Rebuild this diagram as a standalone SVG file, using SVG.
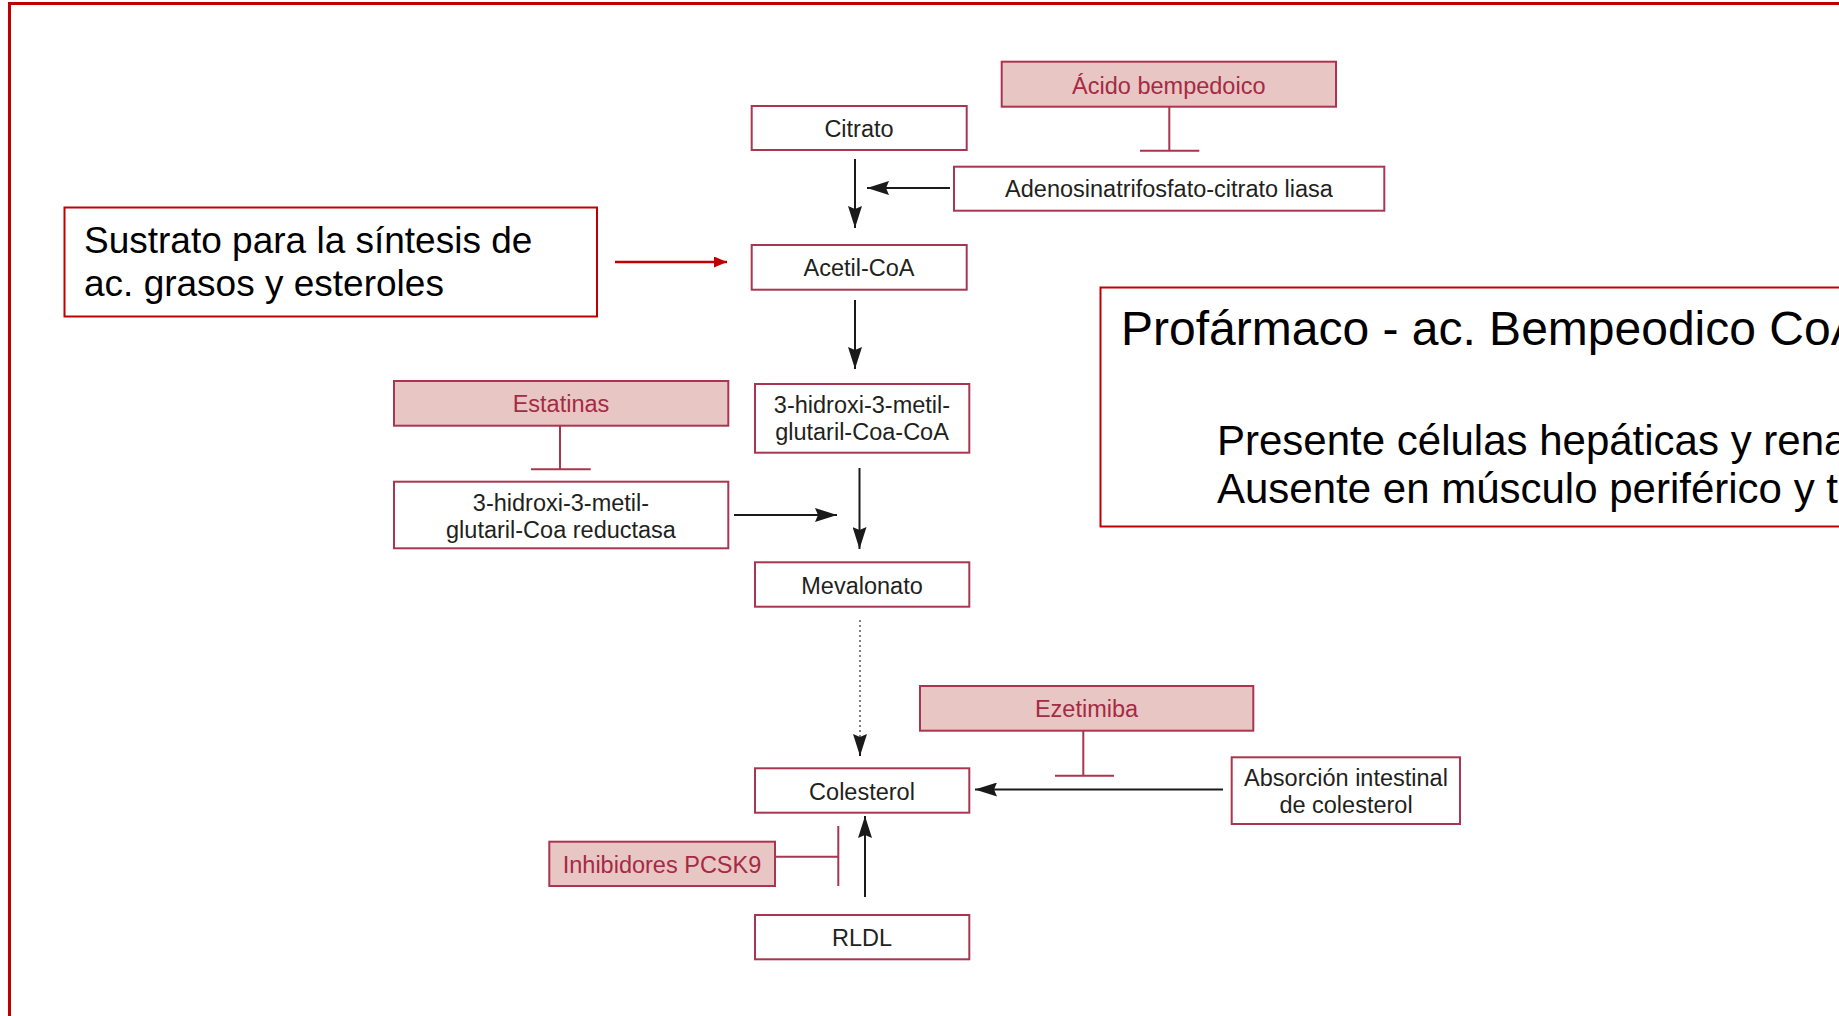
<svg xmlns="http://www.w3.org/2000/svg" width="1839" height="1016" viewBox="0 0 1839 1016">
<style>
.bg{fill:#ffffff}
.frame{fill:none;stroke:#c00000;stroke-width:3}
.note{fill:#ffffff;stroke:#c00000;stroke-width:2}
.node{fill:#ffffff;stroke:#aa3550;stroke-width:2}
.drug{fill:#e8c6c3;stroke:#aa3550;stroke-width:2}
.t{font-family:"Liberation Sans",Arial,sans-serif;font-size:23.5px;fill:#231f20;text-anchor:middle}
.td{font-family:"Liberation Sans",Arial,sans-serif;font-size:23.5px;fill:#a52a45;text-anchor:middle}
.tn{font-family:"Liberation Sans",Arial,sans-serif;fill:#000000}
.arr{stroke:#1a1a1a;stroke-width:2;fill:none}
.inh{stroke:#aa3550;stroke-width:2;fill:none}
.dot{stroke:#555555;stroke-width:1.5;fill:none;stroke-dasharray:2 3}
.red{stroke:#c00000;stroke-width:2.5;fill:none}
</style>
<defs>
<marker id="ah" viewBox="0 0 22 14" refX="22" refY="7" markerWidth="22" markerHeight="14" markerUnits="userSpaceOnUse" orient="auto">
<path d="M0,0 L22,7 L0,14 L3,7 z" fill="#1a1a1a"/>
</marker>
<marker id="ahr" viewBox="0 0 13 11" refX="13" refY="5.5" markerWidth="13" markerHeight="11" markerUnits="userSpaceOnUse" orient="auto">
<path d="M0,0 L13,5.5 L0,11 z" fill="#c00000"/>
</marker>
</defs>
<rect class="bg" x="0" y="0" width="1839" height="1016"/>
<rect class="frame" x="9.5" y="3.5" width="1900" height="1100"/>

<g id="connectors">
<line class="arr" x1="855" y1="159" x2="855" y2="228" marker-end="url(#ah)"/>
<line class="arr" x1="950" y1="188" x2="867" y2="188" marker-end="url(#ah)"/>
<line class="arr" x1="855" y1="300" x2="855" y2="369" marker-end="url(#ah)"/>
<line class="arr" x1="859.5" y1="468" x2="859.5" y2="549" marker-end="url(#ah)"/>
<line class="arr" x1="734" y1="515" x2="837" y2="515" marker-end="url(#ah)"/>
<line class="dot" x1="860" y1="620" x2="860" y2="740"/>
<line class="arr" x1="860" y1="738" x2="860" y2="756" marker-end="url(#ah)"/>
<line class="arr" x1="1223" y1="789.5" x2="975" y2="789.5" marker-end="url(#ah)"/>
<line class="arr" x1="865" y1="897" x2="865" y2="816" marker-end="url(#ah)"/>
<path class="inh" d="M1169.3,106.7 V150.7 M1140,150.7 H1199.3"/>
<path class="inh" d="M560,425.7 V469.3 M531,469.3 H590.7"/>
<path class="inh" d="M1083.3,730.7 V775.7 M1055,775.7 H1114"/>
<path class="inh" d="M775,856.7 H838.3 M838.3,826 V886"/>
<line class="red" x1="615" y1="262" x2="727" y2="262" marker-end="url(#ahr)"/>
</g>

<g id="sustrato">
<rect class="note" x="64.5" y="207.5" width="532.5" height="109"/>
<text class="tn" x="84" y="253" font-size="37">Sustrato para la síntesis de</text>
<text class="tn" x="84" y="296" font-size="37">ac. grasos y esteroles</text>
</g>

<g id="profarmaco">
<rect class="note" x="1100.5" y="287.5" width="900" height="239"/>
<text class="tn" x="1121" y="345" font-size="48">Profármaco - ac. Bempeodico CoA</text>
<text class="tn" x="1217" y="455" font-size="42">Presente células hepáticas y rena</text>
<text class="tn" x="1217" y="503" font-size="42">Ausente en músculo periférico y t</text>
</g>

<g id="acido-bempedoico">
<rect class="drug" x="1001.7" y="61.7" width="334.3" height="45"/>
<text class="td" x="1168.8" y="93.5">Ácido bempedoico</text>
</g>

<g id="citrato">
<rect class="node" x="751.7" y="106" width="215" height="44"/>
<text class="t" x="859" y="137">Citrato</text>
</g>

<g id="atp-citrato-liasa">
<rect class="node" x="954" y="166.7" width="430.3" height="44"/>
<text class="t" x="1169" y="197">Adenosinatrifosfato-citrato liasa</text>
</g>

<g id="acetil-coa">
<rect class="node" x="751.7" y="245" width="215" height="44.7"/>
<text class="t" x="859" y="276">Acetil-CoA</text>
</g>

<g id="estatinas">
<rect class="drug" x="394" y="381" width="334.3" height="44.7"/>
<text class="td" x="561" y="412">Estatinas</text>
</g>

<g id="hmg-coa">
<rect class="node" x="755" y="384" width="214.3" height="68.7"/>
<text class="t" x="862" y="413">3-hidroxi-3-metil-</text>
<text class="t" x="862" y="440">glutaril-Coa-CoA</text>
</g>

<g id="hmg-reductasa">
<rect class="node" x="394" y="481.7" width="334.3" height="66.6"/>
<text class="t" x="561" y="511">3-hidroxi-3-metil-</text>
<text class="t" x="561" y="538">glutaril-Coa reductasa</text>
</g>

<g id="mevalonato">
<rect class="node" x="755" y="562.3" width="214.3" height="44.4"/>
<text class="t" x="862" y="593.5">Mevalonato</text>
</g>

<g id="ezetimiba">
<rect class="drug" x="920" y="686" width="333.3" height="44.7"/>
<text class="td" x="1086.5" y="717">Ezetimiba</text>
</g>

<g id="colesterol">
<rect class="node" x="755" y="768.3" width="214.3" height="44.4"/>
<text class="t" x="862" y="799.5">Colesterol</text>
</g>

<g id="absorcion">
<rect class="node" x="1231.7" y="757.3" width="228.3" height="66.7"/>
<text class="t" x="1346" y="786">Absorción intestinal</text>
<text class="t" x="1346" y="813">de colesterol</text>
</g>

<g id="inhibidores-pcsk9">
<rect class="drug" x="549.3" y="841.7" width="225.7" height="44.3"/>
<text class="td" x="662" y="872.5">Inhibidores PCSK9</text>
</g>

<g id="rldl">
<rect class="node" x="755" y="915" width="214.3" height="44.3"/>
<text class="t" x="862" y="946">RLDL</text>
</g>
</svg>
